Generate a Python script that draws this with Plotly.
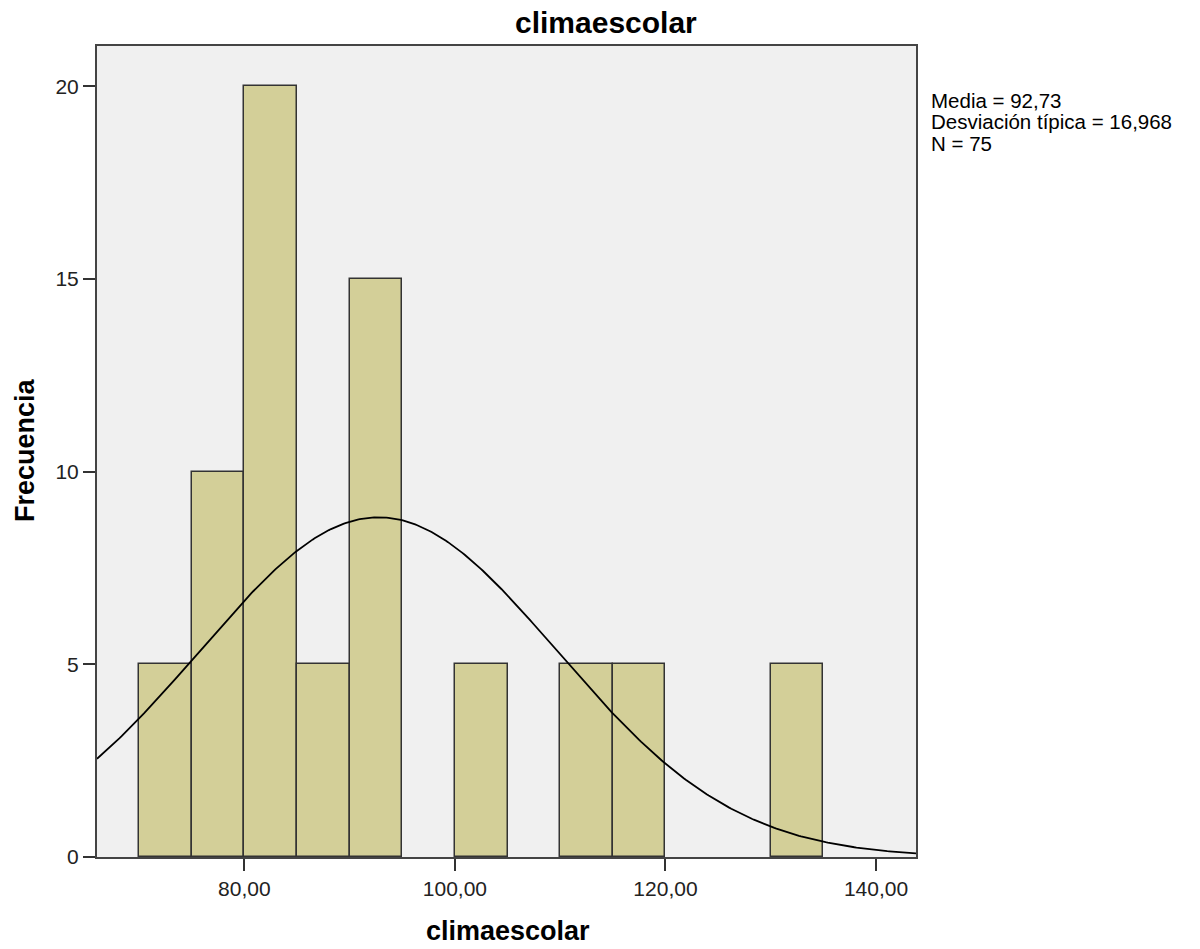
import numpy as np
import plotly.graph_objects as go

bin_starts = [70, 75, 80, 85, 90, 100, 110, 115, 130]
bin_counts = [5, 10, 20, 5, 15, 5, 5, 5, 5]
bin_width = 5
media = 92.73
desv = 16.968
n_total = 75
x_ticks = [80, 100, 120, 140]
x_tick_labels = ["80,00", "100,00", "120,00", "140,00"]
y_ticks = [0, 5, 10, 15, 20]
stats_lines = ["Media = 92,73", "Desviación típica = 16,968", "N = 75"]

L, R, T, B = 97, 916, 46, 857
W, H = 1200, 949

fig = go.Figure()
fig.add_trace(go.Bar(
    x=[s + bin_width / 2 for s in bin_starts], y=bin_counts, width=bin_width,
    marker=dict(color="#D3CF98", line=dict(color="#333333", width=1.5)),
    hoverinfo="skip", showlegend=False))

xs = np.linspace(66.0, 143.8, 400)
ys = n_total * bin_width * np.exp(-0.5 * ((xs - media) / desv) ** 2) / (desv * np.sqrt(2 * np.pi))
fig.add_trace(go.Scatter(x=xs, y=ys, mode="lines", line=dict(color="black", width=1.8),
                         hoverinfo="skip", showlegend=False))

font = "Liberation Sans, Arial, sans-serif"

def px_x(p):
    return (p - L) / (R - L)

def px_y(p):
    return 1 - (p - T) / (B - T)

annotations = [
    dict(text="<b>climaescolar</b>", xref="paper", yref="paper", x=px_x(606), y=px_y(22),
         xanchor="center", yanchor="middle", showarrow=False,
         font=dict(size=30, family=font, color="black")),
    dict(text="<b>climaescolar</b>", xref="paper", yref="paper", x=px_x(508), y=px_y(931),
         xanchor="center", yanchor="middle", showarrow=False,
         font=dict(size=27, family=font, color="black")),
    dict(text="<b>Frecuencia</b>", xref="paper", yref="paper", x=px_x(25), y=px_y(450),
         xanchor="center", yanchor="middle", showarrow=False, textangle=-90,
         font=dict(size=27, family=font, color="black")),
]
for i, line in enumerate(stats_lines):
    annotations.append(dict(
        text=line, xref="paper", yref="paper", x=px_x(929), y=px_y(100 + 21.5 * i),
        xanchor="left", yanchor="middle", showarrow=False,
        font=dict(size=20.5, family=font, color="black")))

fig.update_layout(
    width=W, height=H,
    margin=dict(l=L, r=W - R, t=T, b=H - B),
    paper_bgcolor="white", plot_bgcolor="#F0F0F0",
    bargap=0,
    font=dict(family=font, color="black"),
    xaxis=dict(range=[66.0, 143.8], tickvals=x_ticks, ticktext=x_tick_labels,
               ticks="outside", ticklen=12, tickwidth=1.5, tickcolor="#333",
               showgrid=False, zeroline=False, showline=True, linecolor="#444", linewidth=2,
               mirror=True, tickfont=dict(size=21, family=font, color="#222")),
    yaxis=dict(range=[0, 21.05], tickvals=y_ticks,
               ticks="outside", ticklen=12, tickwidth=1.5, tickcolor="#333",
               showgrid=False, zeroline=False, showline=True, linecolor="#444", linewidth=2,
               mirror=True, tickfont=dict(size=21, family=font, color="#222")),
    annotations=annotations,
)
fig.write_html("out.html")
